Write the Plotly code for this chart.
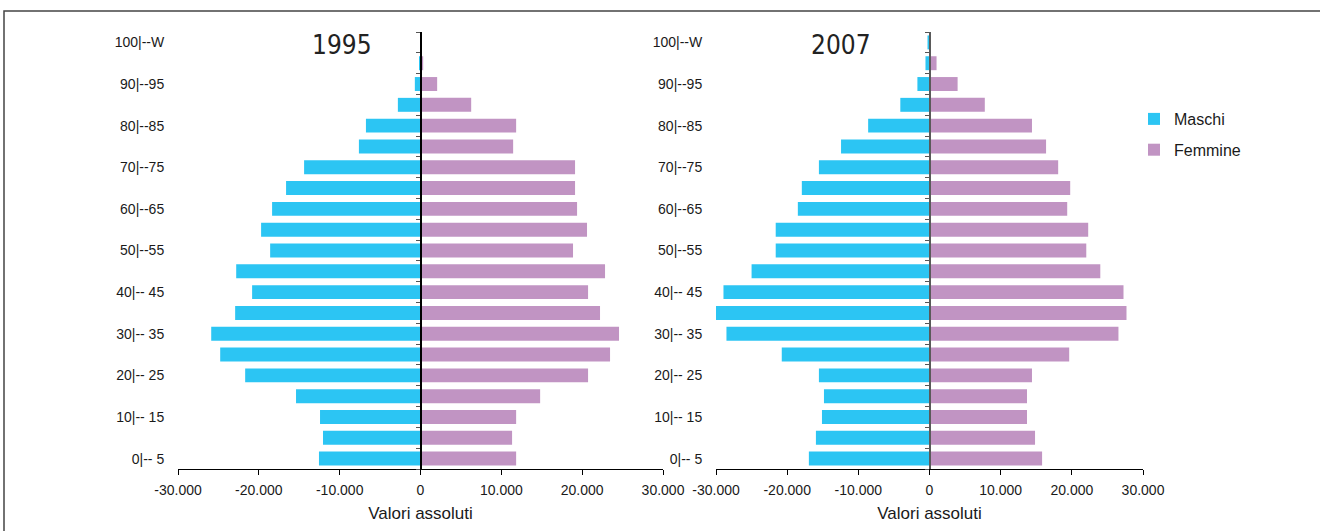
import plotly.graph_objects as go

# Age classes, bottom to top
ages = ["0|-- 5", "5|-- 10", "10|-- 15", "15|-- 20", "20|-- 25", "25|-- 30",
        "30|-- 35", "35|-- 40", "40|-- 45", "45|--50", "50|--55", "55|--60",
        "60|--65", "65|--70", "70|--75", "75|--80", "80|--85", "85|--90",
        "90|--95", "95|--100", "100|--W"]

# Resident population by sex, absolute values
maschi_1995 = [12560, 12060, 12430, 15400, 21690, 24780, 25890, 22930, 20830,
               22800, 18600, 19720, 18360, 16630, 14400, 7620, 6750, 2800,
               700, 100, 0]
femmine_1995 = [11830, 11330, 11830, 14800, 20730, 23450, 24560, 22210, 20730,
                22830, 18870, 20600, 19370, 19120, 19120, 11460, 11830, 6270,
                2060, 330, 0]
maschi_2007 = [16950, 15960, 15110, 14830, 15540, 20760, 28530, 30370, 28950,
               25000, 21610, 21610, 18500, 17940, 15540, 12430, 8620, 4100,
               1700, 565, 280]
femmine_2007 = [15820, 14830, 13700, 13700, 14400, 19630, 26550, 27680, 27260,
                24000, 22030, 22300, 19350, 19770, 18080, 16380, 14400, 7770,
                3950, 990, 0]

years = ["1995", "2007"]
x_ticks = [-30000, -20000, -10000, 0, 10000, 20000, 30000]
x_ticktext = ["-30.000", "-20.000", "-10.000", "0", "10.000", "20.000", "30.000"]

C_M = "#2CC5F3"
C_F = "#C194C3"
W, H = 1320, 531
SANS = "Liberation Sans, Arial, sans-serif"

dom_x = [[178 / W, 663 / W], [716 / W, 1143 / W]]
dom_y = [1 - 469 / H, 1 - 32 / H]

# Males sit on the label axis (left edge), females on the central axis
# that carries the vertical zero line with the class-boundary ticks.
axes_ids = [("x", "y", "y3"), ("x2", "y2", "y4")]

fig = go.Figure()
panels = [(maschi_1995, femmine_1995), (maschi_2007, femmine_2007)]
for i, (m, f) in enumerate(panels):
    xa, ya_lab, ya_zero = axes_ids[i]
    fig.add_trace(go.Bar(y=ages, x=[-v for v in m], orientation="h",
                         marker=dict(color=C_M, line_width=0), name="Maschi",
                         legendgroup="m", showlegend=(i == 1),
                         xaxis=xa, yaxis=ya_lab))
    fig.add_trace(go.Bar(y=ages, x=f, orientation="h",
                         marker=dict(color=C_F, line_width=0), name="Femmine",
                         legendgroup="f", showlegend=(i == 1),
                         xaxis=xa, yaxis=ya_zero))

n = len(ages)
yr = [-0.5, n - 0.5]
label_font = dict(family=SANS, size=14, color="#1a1a1a")

layout = dict(
    width=W, height=H,
    template="none",
    margin=dict(l=0, r=0, t=0, b=0),
    paper_bgcolor="white", plot_bgcolor="white",
    barmode="relative", bargap=0.33,
    font=label_font,
    showlegend=True,
    legend=dict(x=1134 / W, y=1 - 102 / H, xanchor="left", yanchor="top",
                font=dict(family=SANS, size=16, color="#1a1a1a"),
                tracegroupgap=7, bgcolor="rgba(0,0,0,0)"),
)

zero_colors = ["#000000", "#5a5a5a"]
zero_widths = [1.5, 2]
for i in range(2):
    xa, ya_lab, ya_zero = axes_ids[i]
    xkey = "xaxis" + xa[1:]
    ykey_lab = "yaxis" + ya_lab[1:]
    ykey_zero = "yaxis" + ya_zero[1:]
    d0, d1 = dom_x[i]
    layout[xkey] = dict(
        domain=dom_x[i], anchor=ya_lab, range=[-30000, 30000],
        tickvals=x_ticks, ticktext=x_ticktext, ticks="outside", ticklen=5,
        tickcolor="#000", showline=True, linecolor="#000", linewidth=1,
        ticklabelstandoff=3,
        showgrid=False, zeroline=False, fixedrange=True,
        title=dict(text="Valori assoluti", standoff=10,
                   font=dict(family=SANS, size=17, color="#1a1a1a")),
        automargin=False,
    )
    layout[ykey_lab] = dict(
        domain=dom_y, anchor=xa, side="left",
        type="category", categoryorder="array", categoryarray=ages, range=yr,
        tickvals=ages[0::2],
        ticks="outside", ticklen=10, tickcolor="rgba(0,0,0,0)",
        showline=False, showgrid=False, zeroline=False, fixedrange=True,
        automargin=False, tickfont=label_font,
    )
    layout[ykey_zero] = dict(
        overlaying=ya_lab, anchor="free", position=(d0 + d1) / 2, side="left",
        type="category", categoryorder="array", categoryarray=ages, range=yr,
        showline=True, linecolor=zero_colors[i], linewidth=zero_widths[i],
        ticks="outside", tickson="boundaries", ticklen=4, tickcolor="#555",
        showticklabels=False, showgrid=False, zeroline=False, fixedrange=True,
        automargin=False,
    )

fig.update_layout(**layout)

# Year titles above each pyramid
for i, yr_txt in enumerate(years):
    cx = [341.5, 840.5][i] / W
    fig.add_annotation(text=yr_txt, x=cx, y=1 - 45 / H, xref="paper", yref="paper",
                       xanchor="center", yanchor="middle", showarrow=False,
                       font=dict(family="DejaVu Sans Condensed, Arial Narrow, sans-serif",
                                 size=26, color="#222222"))

# Outer frame
fig.add_shape(type="rect", xref="paper", yref="paper",
              x0=4 / W, x1=1.01, y0=-0.05, y1=1 - 11 / H,
              line=dict(color="#444444", width=1.5), fillcolor="rgba(0,0,0,0)", layer="below")

fig.write_html("out.html")
